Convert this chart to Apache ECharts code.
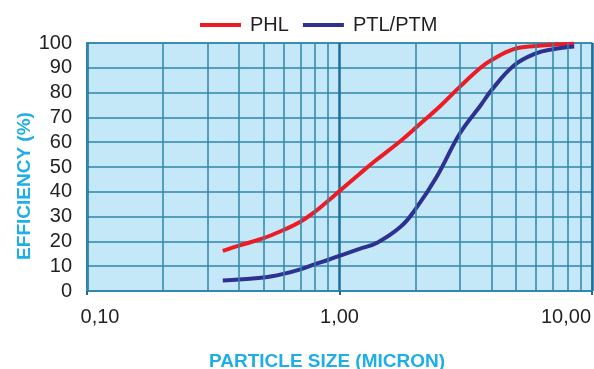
<!DOCTYPE html>
<html lang="en">
<head>
    <meta charset="UTF-8">
    <title>Efficiency vs Particle Size</title>
    <script src="https://cdn.jsdelivr.net/npm/echarts@6/dist/echarts.min.js"></script>
</head>
<body style="margin:0;background:#fff;">
    <div id="chart-container" style="width: 594px; height: 369px;"></div>
    <script>
    // data
    var seriesNames = ['PHL', 'PTL/PTM'];
    var phlSize = [0.345, 0.4, 0.5, 0.6, 0.7, 0.8, 0.9, 1.0, 1.2, 1.37, 1.75, 2.03, 2.5, 3.0, 3.6, 4.0, 4.9, 6.0, 7.0, 8.5];
    var phlEff  = [16.2, 18.3, 21.3, 24.6, 27.9, 32.0, 36.3, 40.3, 47.2, 52.1, 60.6, 66.3, 74.5, 82.4, 89.8, 93.1, 97.5, 98.8, 99.3, 99.7];
    var ptlSize = [0.345, 0.4, 0.5, 0.6, 0.7, 0.8, 0.9, 1.0, 1.2, 1.41, 1.75, 2.0, 2.44, 3.0, 3.63, 4.0, 4.92, 6.0, 7.0, 8.5];
    var ptlEff  = [4.2, 4.6, 5.4, 6.9, 8.7, 10.8, 12.5, 14.2, 17.0, 19.5, 26.0, 33.0, 46.5, 63.6, 75.0, 81.0, 91.0, 95.8, 97.5, 98.6];
    var minorSizes = [0.2, 0.3, 0.4, 0.5, 0.6, 0.7, 0.8, 0.9, 2, 3, 4, 5, 6, 7, 8, 9];
    var xLabels = {'0.1': '0,10', '1': '1,00', '10': '10,00'};

    var gridColor = '#2f86ad';
    var font = 'Liberation Sans, Arial, sans-serif';

    function pairs(xs, ys) {
        var out = [];
        for (var i = 0; i < xs.length; i++) out.push([xs[i], ys[i]]);
        return out;
    }

    var chart = echarts.init(document.getElementById('chart-container'));

    var option = {
        animation: false,
        textStyle: { fontFamily: font },
        legend: {
            data: seriesNames,
            left: 195,
            top: 10,
            itemWidth: 41,
            itemHeight: 4,
            itemGap: 14,
            icon: 'rect',
            textStyle: { fontSize: 20, color: '#231f20', padding: [0, 0, 0, 4] }
        },
        grid: {
            left: 87, right: 2, top: 43, bottom: 78,
            outerBoundsMode: 'none',
            containLabel: false,
            show: true,
            backgroundColor: '#c5e8f8',
            borderColor: gridColor,
            borderWidth: 1.5
        },
        xAxis: {
            type: 'log',
            logBase: 10,
            min: 0.1,
            max: 10,
            name: 'PARTICLE SIZE (MICRON)',
            nameLocation: 'middle',
            nameGap: 61,
            nameMoveOverlap: false,
            nameTextStyle: { color: '#1eaee8', fontSize: 19, fontWeight: 'bold', padding: [0, 25, 0, 0] },
            axisLine: { show: true, lineStyle: { color: gridColor, width: 1.5 } },
            axisTick: { show: true, length: 4, lineStyle: { color: '#1b6e9c', width: 2 } },
            axisLabel: {
                margin: 16,
                color: '#231f20',
                fontSize: 20,
                formatter: function (v) {
                    var t = xLabels[String(+v.toPrecision(3))] || '';
                    if (v < 0.5) return '{first|' + t + '}';
                    if (v > 5) return '{last|' + t + '}';
                    return t;
                },
                rich: {
                    first: { fontSize: 20, color: '#231f20', padding: [0, 0, 0, 26] },
                    last: { fontSize: 20, color: '#231f20', padding: [0, 52, 0, 0] }
                }
            },
            splitLine: { show: true, lineStyle: { color: '#1b6e9c', width: 2.5 } }
        },
        yAxis: {
            type: 'value',
            min: 0,
            max: 100,
            interval: 10,
            name: 'EFFICIENCY (%)',
            nameLocation: 'middle',
            nameGap: 53,
            nameMoveOverlap: false,
            nameTextStyle: { color: '#1eaee8', fontSize: 19, fontWeight: 'bold', padding: [0, 38, 0, 0] },
            axisLine: { show: true, lineStyle: { color: gridColor, width: 2 } },
            axisTick: { show: false },
            axisLabel: { margin: 15, color: '#231f20', fontSize: 20 },
            splitLine: { show: true, lineStyle: { color: gridColor, width: 1.5 } }
        },
        series: [
            {
                // minor vertical grid lines at 2..9 of each decade
                name: 'grid',
                type: 'line',
                data: [],
                z: 1,
                silent: true,
                markLine: {
                    silent: true,
                    symbol: ['none', 'none'],
                    label: { show: false },
                    lineStyle: { color: gridColor, width: 1.5, type: 'solid' },
                    data: minorSizes.map(function (v) { return { xAxis: v }; })
                }
            },
            {
                name: seriesNames[0],
                type: 'line',
                smooth: 0.4,
                showSymbol: false,
                z: 3,
                color: '#ed1c24',
                lineStyle: { color: '#ed1c24', width: 4 },
                data: pairs(phlSize, phlEff)
            },
            {
                name: seriesNames[1],
                type: 'line',
                smooth: 0.4,
                showSymbol: false,
                z: 3,
                color: '#2e3192',
                lineStyle: { color: '#2e3192', width: 4 },
                data: pairs(ptlSize, ptlEff)
            }
        ]
    };

    chart.setOption(option);
    </script>
</body>
</html>
